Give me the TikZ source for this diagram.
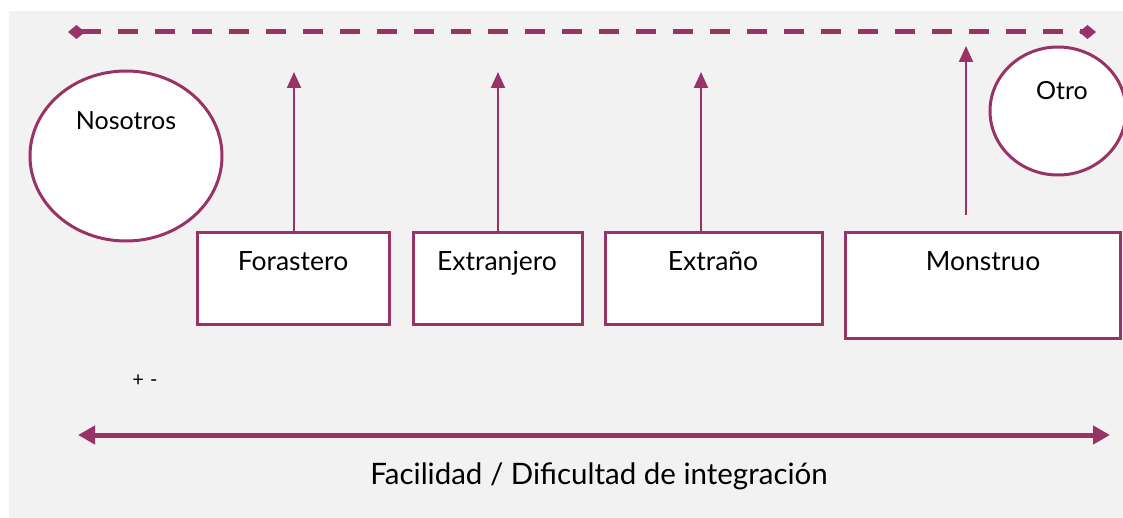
\documentclass[tikz,border=0pt]{standalone}
\usepackage{fontspec}
\setmainfont{Lato}
\usetikzlibrary{arrows.meta}
\definecolor{plum}{RGB}{153,51,102}
\definecolor{bggray}{RGB}{242,242,242}
\tikzset{
  box/.style={draw=plum, line width=3pt, fill=white},
  lbl/.style={font=\fontsize{26.5}{30}\selectfont, text=black, inner sep=0pt, anchor=base},
  olbl/.style={font=\fontsize{25}{30}\selectfont, text=black, inner sep=0pt, anchor=base},
  uparrow/.style={draw=plum, line width=2pt, -{Triangle[length=16pt,width=14pt]}},
}
\begin{document}
\begin{tikzpicture}[x=1pt,y=-1pt]
\useasboundingbox (0,0) rectangle (1123,518);
\fill[bggray] (9,11) rectangle (1123,518);
% dashed line
\coordinate (dl) at (68,32);
\coordinate (dr) at (1096,32);
\draw[plum, line width=5pt, dash pattern=on 20pt off 17pt, {Diamond[length=17pt,width=14pt]}-{Diamond[length=17pt,width=14pt]}] (dl) -- (dr);
% ellipses
\draw[plum, line width=3pt, fill=white] (126,156) ellipse [x radius=96, y radius=85];
\node[olbl] (nos) at (126,130) {Nosotros};
\begin{scope}
\clip (0,0) rectangle (1123,518);
\draw[plum, line width=3pt, fill=white] (1058,111) ellipse [x radius=68, y radius=64];
\end{scope}
\node[olbl] (otro) at (1062,100) {Otro};
% boxes
\draw[box] (197,233) rectangle (389,324);
\draw[box] (413,233) rectangle (582,324);
\draw[box] (605,233) rectangle (822,324);
\draw[box] (845,233) rectangle (1120,338);
\node[lbl] (fo) at (293,271) {Forastero};
\node[lbl] (ej) at (497,271) {Extranjero};
\node[lbl] (eo) at (713,271) {Extraño};
\node[lbl] (mo) at (983,271) {Monstruo};
% vertical arrows
\coordinate (a1s) at (294,232); \coordinate (a1e) at (294,72);
\coordinate (a2s) at (498,232); \coordinate (a2e) at (498,72);
\coordinate (a3s) at (701,232); \coordinate (a3e) at (701,72);
\coordinate (a4s) at (966,215); \coordinate (a4e) at (966,46);
\draw[uparrow] (a1s) -- (a1e);
\draw[uparrow] (a2s) -- (a2e);
\draw[uparrow] (a3s) -- (a3e);
\draw[uparrow] (a4s) -- (a4e);
% plus minus
\node[font=\fontsize{20}{24}\selectfont, inner sep=0pt] (pm) at (145,381) {+\hspace{6pt}-};
% bottom arrow
\coordinate (bl) at (78,435);
\coordinate (br) at (1110,435);
\draw[plum, line width=5pt, {Triangle[length=17pt,width=18pt]}-{Triangle[length=17pt,width=18pt]}] (bl) -- (br);
\node[font=\fontsize{29.5}{34}\selectfont, inner sep=0pt, anchor=base] (cap) at (599,484) {Facilidad / Dificultad de integración};
\end{tikzpicture}
\end{document}
